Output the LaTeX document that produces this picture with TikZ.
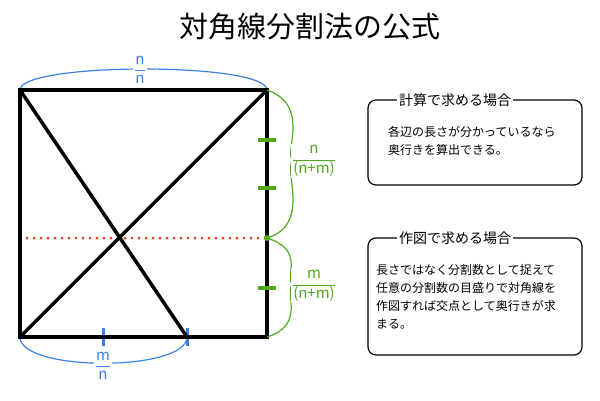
\documentclass[tikz,border=0pt]{standalone}
\usepackage{fontspec}
\setmainfont{Noto Sans CJK JP}
\definecolor{cblu}{RGB}{60,130,230}
\definecolor{cgrn}{RGB}{80,170,30}
\definecolor{cred}{RGB}{230,60,20}
\newcommand{\myfr}[2]{$\displaystyle\frac{\mbox{#1}}{\mbox{#2}}$}
\begin{document}
\begin{tikzpicture}[x=1pt,y=-1pt,
  sq/.style={line width=3.5pt},
  blu/.style={draw=cblu,line width=1.2pt},
  grn/.style={draw=cgrn,line width=1.2pt},
  box/.style={draw,line width=1.2pt,rounded corners=8pt},
  lbl/.style={fill=white,font=\fontsize{14}{16}\selectfont,inner sep=2pt},
  frl/.style={fill=white,inner sep=1pt,font=\fontsize{15}{16}\selectfont},
  txt/.style={font=\fontsize{12}{18}\selectfont,align=left,anchor=north west,inner sep=0pt}]
\useasboundingbox (0,0) rectangle (600,400);
\node (title) at (310,27) {\fontsize{29}{32}\selectfont 対角線分割法の公式};
\coordinate (A) at (20,90); \coordinate (B) at (267,90);
\coordinate (C) at (267,337); \coordinate (D) at (20,337);
\coordinate (E) at (187,337); \coordinate (M) at (267,238); \coordinate (L) at (20,238);
% arcs
\draw[blu] (A) .. controls (20,62) and (267,62) .. (B);
\node[frl,text=cblu] (nn) at (140,70) {\myfr{n}{n}};
\draw[blu] (D) .. controls (20,372) and (187,372) .. (E);
\draw[blu,line width=3pt] (103,328) -- (103,346);
\draw[blu,line width=3pt] (187,328) -- (187,346);
\node[frl,text=cblu] (mn) at (103,366) {\myfr{m}{n}};
% red dotted
\draw[draw=cred,line width=3pt,line cap=round,dash pattern=on 0pt off 7pt] (L) -- (M);
% square and diagonals
\draw[sq] (A) -- (E);
\draw[sq] (D) -- (B);
\draw[sq] (A) rectangle (C);
% green
\foreach \yy in {140,188,288} \draw[grn,line width=3.5pt] (258,\yy) -- (276,\yy);
\fill[cgrn] (M) circle (3pt);
\draw[grn] (B) .. controls (310,105) and (285,150) .. (292,160) .. controls (285,175) and (310,225) .. (M);
\draw[grn] (M) .. controls (305,250) and (285,275) .. (292,285) .. controls (285,295) and (305,325) .. (C);
\node[frl,text=cgrn] (f1) at (314,161) {\myfr{n}{(n+m)}};
\node[frl,text=cgrn] (f2) at (314,286) {\myfr{m}{(n+m)}};
% boxes
\draw[box] (368,100) rectangle (582,185);
\node[lbl] (t1) at (455,100) {計算で求める場合};
\node[txt] (x1) at (388,126) {各辺の長さが分かっているなら\\奥行きを算出できる。};
\draw[box] (368,238) rectangle (582,355);
\node[lbl] (t2) at (455,238) {作図で求める場合};
\node[txt] (x2) at (376,264) {長さではなく分割数として捉えて\\任意の分割数の目盛りで対角線を\\作図すれば交点として奥行きが求\\まる。};
\end{tikzpicture}
\end{document}
